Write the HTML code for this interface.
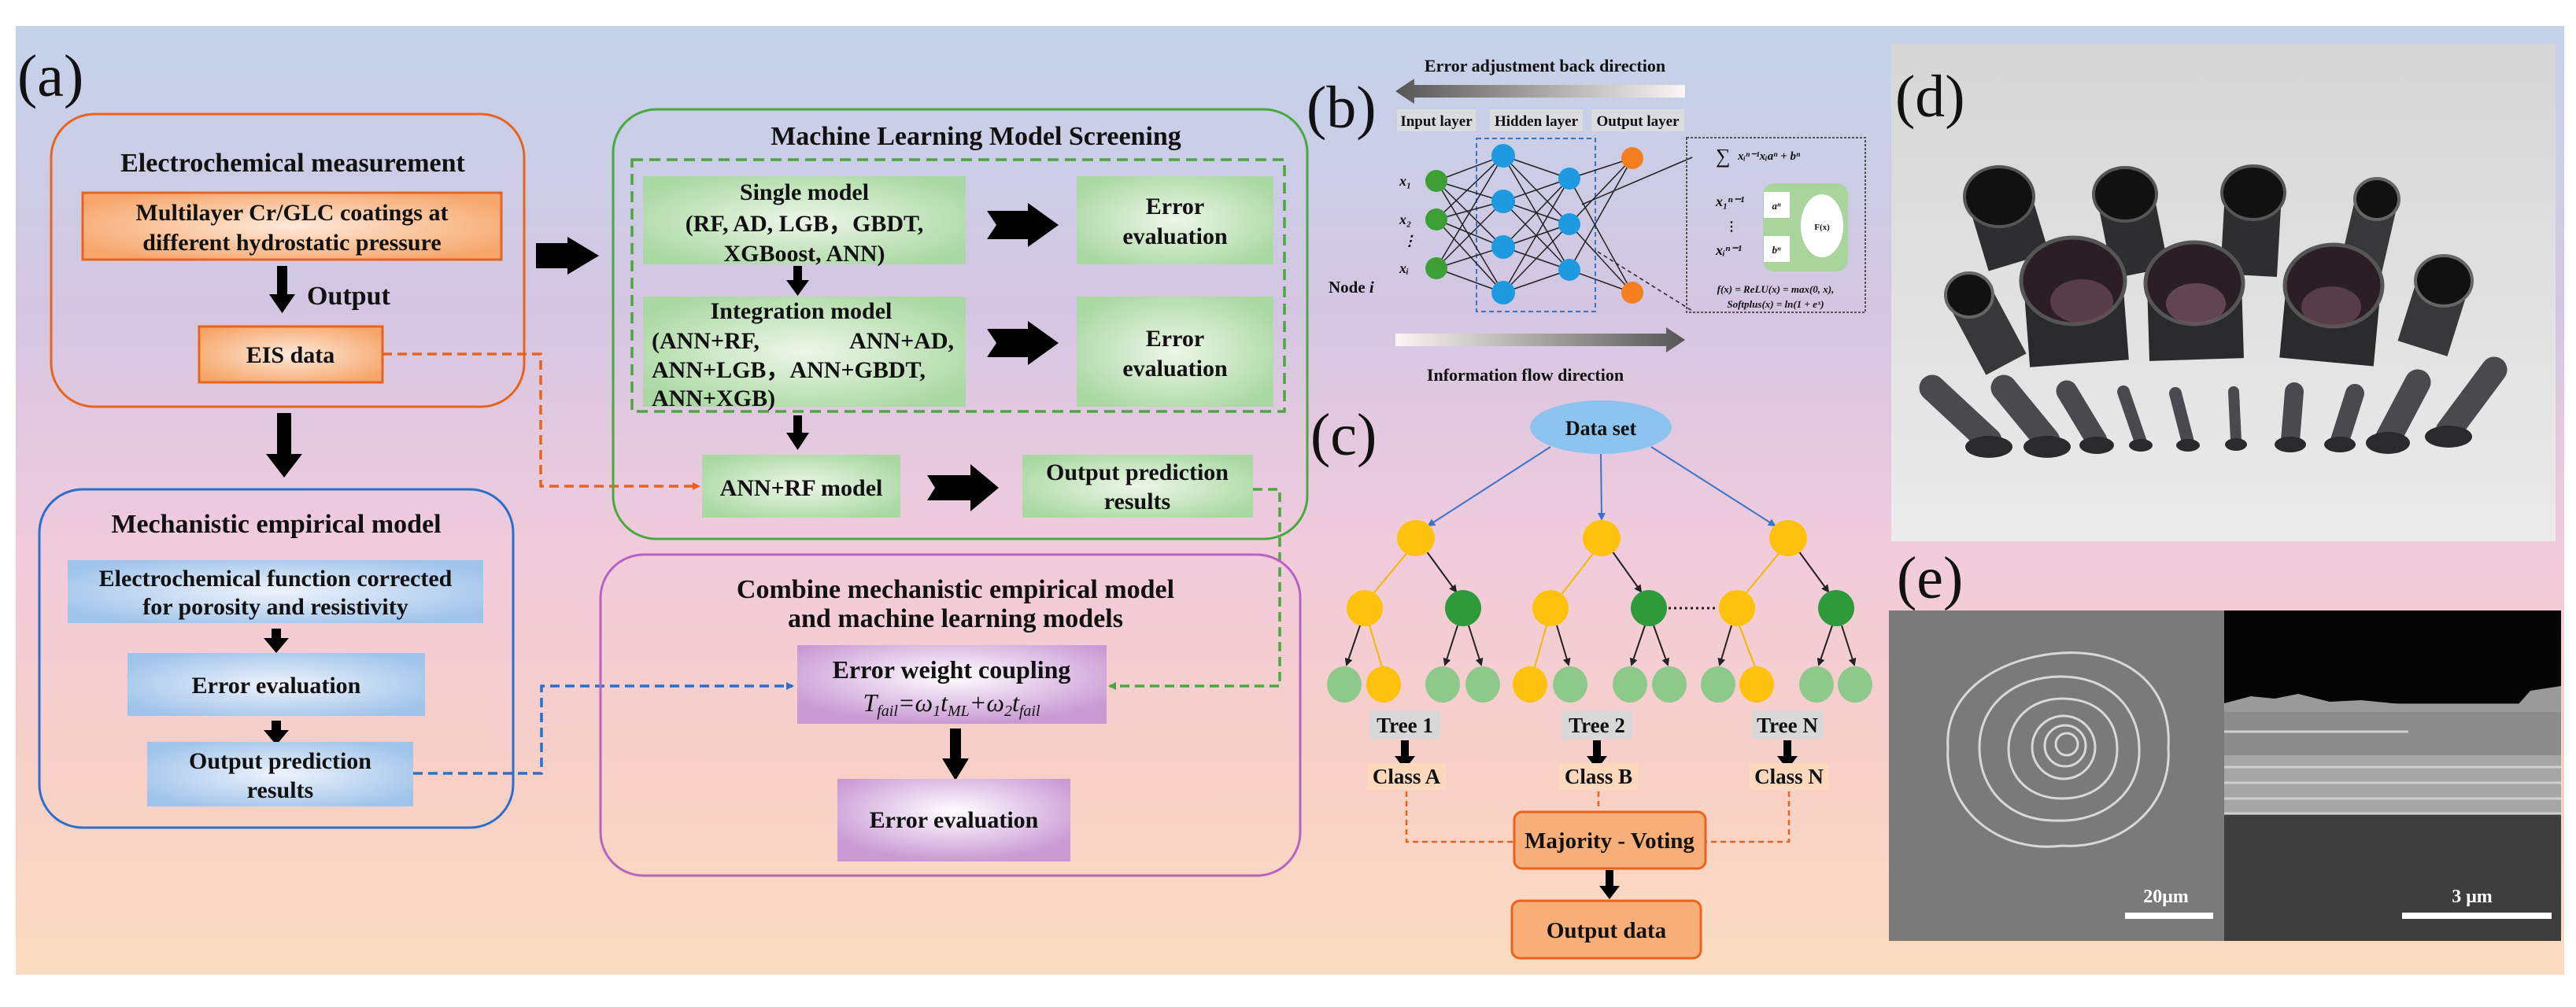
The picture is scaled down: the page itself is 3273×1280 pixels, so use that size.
<!DOCTYPE html>
<html><head><meta charset="utf-8"><style>
html,body{margin:0;padding:0;background:#fff;}
svg{display:block;}
text{font-family:"Liberation Serif",serif;font-weight:bold;fill:#111;}
</style></head><body>
<svg width="3273" height="1280" viewBox="0 0 3273 1280" xmlns="http://www.w3.org/2000/svg">
<defs>
<linearGradient id="bg" x1="0" y1="0" x2="0" y2="1">
<stop offset="0" stop-color="#c4d3ea"/>
<stop offset="0.3" stop-color="#d4c6e2"/>
<stop offset="0.55" stop-color="#f1cbdc"/>
<stop offset="0.8" stop-color="#f8d0c6"/>
<stop offset="1" stop-color="#fbdcc0"/>
</linearGradient>
<radialGradient id="og" cx="0.5" cy="0.5" r="0.6"><stop offset="0" stop-color="#fde9da"/><stop offset="1" stop-color="#f6a66a"/></radialGradient>
<radialGradient id="gg" cx="0.5" cy="0.5" r="0.6"><stop offset="0" stop-color="#eef6e9"/><stop offset="1" stop-color="#a9d8a2"/></radialGradient>
<radialGradient id="bgr" cx="0.5" cy="0.5" r="0.6"><stop offset="0" stop-color="#eef3fb"/><stop offset="1" stop-color="#9fc3ea"/></radialGradient>
<radialGradient id="pg" cx="0.5" cy="0.4" r="0.6"><stop offset="0" stop-color="#ffffff"/><stop offset="1" stop-color="#c99ad4"/></radialGradient>
<linearGradient id="arrL" x1="0" x2="1"><stop offset="0" stop-color="#555"/><stop offset="1" stop-color="#fbf6f3"/></linearGradient>
<linearGradient id="arrR" x1="0" x2="1"><stop offset="0" stop-color="#fbf6f3"/><stop offset="1" stop-color="#555"/></linearGradient>
<linearGradient id="photo" x1="0" y1="0" x2="0" y2="1"><stop offset="0" stop-color="#d6d6d6"/><stop offset="1" stop-color="#ebebeb"/></linearGradient>
<marker id="mo" markerWidth="10" markerHeight="10" refX="8" refY="5" orient="auto" markerUnits="userSpaceOnUse"><path d="M0,0 L10,5 L0,10 z" fill="#e8641e"/></marker>
<marker id="mb" markerWidth="10" markerHeight="10" refX="8" refY="5" orient="auto" markerUnits="userSpaceOnUse"><path d="M0,0 L10,5 L0,10 z" fill="#2a6fc9"/></marker>
<marker id="mg" markerWidth="10" markerHeight="10" refX="8" refY="5" orient="auto" markerUnits="userSpaceOnUse"><path d="M0,0 L10,5 L0,10 z" fill="#4aa83e"/></marker>
<marker id="mbl" markerWidth="10" markerHeight="10" refX="8" refY="5" orient="auto" markerUnits="userSpaceOnUse"><path d="M0,0 L10,5 L0,10 z" fill="#3a74c8"/></marker>
<marker id="mk" markerWidth="10" markerHeight="10" refX="8" refY="5" orient="auto" markerUnits="userSpaceOnUse"><path d="M0,0 L10,5 L0,10 z" fill="#222"/></marker>
</defs>
<rect x="20" y="33" width="3238" height="1206" fill="url(#bg)"/>

<!-- (a) -->
<text x="22" y="122" font-size="76" font-weight="normal" style="font-weight:normal">(a)</text>

<!-- orange box -->
<rect x="65" y="145" width="601" height="372" rx="55" fill="none" stroke="#e8641e" stroke-width="3"/>
<text x="372" y="218" font-size="34" text-anchor="middle">Electrochemical measurement</text>
<rect x="105" y="245" width="532" height="85" fill="url(#og)" stroke="#e8641e" stroke-width="3"/>
<text x="371" y="280" font-size="30" text-anchor="middle">Multilayer Cr/GLC coatings at</text>
<text x="371" y="318" font-size="30" text-anchor="middle">different hydrostatic pressure</text>
<path d="M352,338 h13 v36 h10 l-16.5,24 l-16.5,-24 h10 z" fill="#000"/>
<text x="390" y="387" font-size="34">Output</text>
<rect x="253" y="415" width="233" height="71" fill="url(#og)" stroke="#e8641e" stroke-width="3"/>
<text x="369" y="461" font-size="30" text-anchor="middle">EIS data</text>
<path d="M352,525 h18 v52 h14 l-23,30 l-23,-30 h14 z" fill="#000"/>
<path d="M681,309 h40 v-8 l40,24 l-40,24 v-8 h-40 z" fill="#000"/>
<polyline points="486,450 687,450 687,618 888,618" fill="none" stroke="#e8641e" stroke-width="3.5" stroke-dasharray="12,7" marker-end="url(#mo)"/>

<!-- blue box -->
<rect x="50" y="622" width="602" height="430" rx="55" fill="none" stroke="#2a6fc9" stroke-width="3"/>
<text x="351" y="677" font-size="34" text-anchor="middle">Mechanistic empirical  model</text>
<rect x="86" y="712" width="528" height="80" fill="url(#bgr)"/>
<text x="350" y="745" font-size="30" text-anchor="middle">Electrochemical function corrected</text>
<text x="350" y="781" font-size="30" text-anchor="middle">for porosity and resistivity</text>
<path d="M345,799 h12 v12 h10 l-16,19 l-16,-19 h10 z" fill="#000"/>
<rect x="162" y="830" width="378" height="80" fill="url(#bgr)"/>
<text x="351" y="881" font-size="30" text-anchor="middle">Error evaluation</text>
<path d="M345,916 h12 v12 h10 l-16,19 l-16,-19 h10 z" fill="#000"/>
<rect x="187" y="943" width="338" height="82" fill="url(#bgr)"/>
<text x="356" y="977" font-size="30" text-anchor="middle">Output prediction</text>
<text x="356" y="1014" font-size="30" text-anchor="middle">results</text>
<polyline points="525,983 688,983 688,872 1007,872" fill="none" stroke="#2a6fc9" stroke-width="3.5" stroke-dasharray="12,7" marker-end="url(#mb)"/>

<!-- green box -->
<rect x="779" y="139" width="882" height="546" rx="55" fill="none" stroke="#4aa83e" stroke-width="3"/>
<text x="1240" y="184" font-size="34" text-anchor="middle">Machine Learning Model Screening</text>
<rect x="803" y="203" width="829" height="320" fill="none" stroke="#4aa83e" stroke-width="3.5" stroke-dasharray="14,8"/>
<rect x="817" y="224" width="410" height="112" fill="url(#gg)"/>
<text x="1022" y="254" font-size="30" text-anchor="middle">Single model</text>
<text x="1022" y="294" font-size="30" text-anchor="middle">(RF, AD, LGB，GBDT,</text>
<text x="1022" y="332" font-size="30" text-anchor="middle">XGBoost, ANN)</text>
<rect x="1368" y="224" width="250" height="112" fill="url(#gg)"/>
<text x="1493" y="272" font-size="30" text-anchor="middle">Error</text>
<text x="1493" y="310" font-size="30" text-anchor="middle">evaluation</text>
<path d="M1254,268 h52 v-10 l39,28 l-39,28 v-10 h-52 l12,-18 z" fill="#000"/>
<path d="M1008,338 h11 v18 h9 l-14.5,20 l-14.5,-20 h9 z" fill="#000"/>
<rect x="817" y="377" width="410" height="140" fill="url(#gg)"/>
<text x="1018" y="405" font-size="30" text-anchor="middle">Integration model</text>
<text x="828" y="443" font-size="30">(ANN+RF,</text>
<text x="1212" y="443" font-size="30" text-anchor="end">ANN+AD,</text>
<text x="828" y="480" font-size="30">ANN+LGB，ANN+GBDT,</text>
<text x="828" y="516" font-size="30">ANN+XGB)</text>
<rect x="1368" y="377" width="250" height="140" fill="url(#gg)"/>
<text x="1493" y="440" font-size="30" text-anchor="middle">Error</text>
<text x="1493" y="478" font-size="30" text-anchor="middle">evaluation</text>
<path d="M1254,418 h52 v-10 l39,28 l-39,28 v-10 h-52 l12,-18 z" fill="#000"/>
<path d="M1008,528 h11 v22 h9 l-14.5,22 l-14.5,-22 h9 z" fill="#000"/>
<rect x="892" y="578" width="252" height="80" fill="url(#gg)"/>
<text x="1018" y="630" font-size="30" text-anchor="middle">ANN+RF model</text>
<rect x="1299" y="578" width="293" height="80" fill="url(#gg)"/>
<text x="1445" y="610" font-size="30" text-anchor="middle">Output prediction</text>
<text x="1445" y="647" font-size="30" text-anchor="middle">results</text>
<path d="M1178,604 h55 v-14 l36,30 l-36,30 v-14 h-55 l10,-16 z" fill="#000"/>
<polyline points="1592,622 1626,622 1626,872 1410,872" fill="none" stroke="#4aa83e" stroke-width="3.5" stroke-dasharray="12,7" marker-end="url(#mg)"/>

<!-- purple box -->
<rect x="763" y="705" width="889" height="408" rx="55" fill="none" stroke="#b565c0" stroke-width="3"/>
<text x="1214" y="760" font-size="34" text-anchor="middle">Combine mechanistic empirical model</text>
<text x="1214" y="797" font-size="34" text-anchor="middle">and machine learning models</text>
<rect x="1013" y="820" width="393" height="100" fill="url(#pg)"/>
<text x="1209" y="862" font-size="32" text-anchor="middle">Error weight coupling</text>
<text x="1209" y="904" font-size="32" text-anchor="middle" font-style="italic" style="font-weight:normal"><tspan font-style="italic">T</tspan><tspan font-size="20" dy="6">fail</tspan><tspan dy="-6">=ω</tspan><tspan font-size="20" dy="6">1</tspan><tspan dy="-6">t</tspan><tspan font-size="20" dy="6">ML</tspan><tspan dy="-6">+ω</tspan><tspan font-size="20" dy="6">2</tspan><tspan dy="-6">t</tspan><tspan font-size="20" dy="6">fail</tspan></text>
<path d="M1207,926 h14 v38 h10 l-17,28 l-17,-28 h10 z" fill="#000"/>
<rect x="1064" y="990" width="296" height="105" fill="url(#pg)"/>
<text x="1212" y="1052" font-size="30" text-anchor="middle">Error evaluation</text>

<!-- (b) -->
<text x="1660" y="162" font-size="76" style="font-weight:normal">(b)</text>
<text x="1963" y="91" font-size="22" text-anchor="middle">Error adjustment back direction</text>
<path d="M1773,116 l24,-16 v8 h344 v16 h-344 v8 z" fill="url(#arrL)"/>
<rect x="1775" y="139" width="100" height="28" fill="#dedede" opacity="0.8"/>
<rect x="1893" y="139" width="118" height="28" fill="#dedede" opacity="0.8"/>
<rect x="2022" y="139" width="118" height="28" fill="#dedede" opacity="0.8"/>
<text x="1825" y="160" font-size="19" text-anchor="middle">Input layer</text>
<text x="1952" y="160" font-size="19" text-anchor="middle">Hidden layer</text>
<text x="2081" y="160" font-size="19" text-anchor="middle">Output layer</text>
<rect x="1876" y="176" width="151" height="220" fill="none" stroke="#3a74c8" stroke-width="2" stroke-dasharray="6,4"/>
<g stroke="#222" stroke-width="1.5">
<line x1="1825" y1="230" x2="1910" y2="198"/><line x1="1825" y1="230" x2="1910" y2="256"/><line x1="1825" y1="230" x2="1910" y2="314"/><line x1="1825" y1="230" x2="1910" y2="372"/>
<line x1="1825" y1="279" x2="1910" y2="198"/><line x1="1825" y1="279" x2="1910" y2="256"/><line x1="1825" y1="279" x2="1910" y2="314"/><line x1="1825" y1="279" x2="1910" y2="372"/>
<line x1="1825" y1="341" x2="1910" y2="198"/><line x1="1825" y1="341" x2="1910" y2="256"/><line x1="1825" y1="341" x2="1910" y2="314"/><line x1="1825" y1="341" x2="1910" y2="372"/>
<line x1="1910" y1="198" x2="1994" y2="227"/><line x1="1910" y1="198" x2="1994" y2="285"/><line x1="1910" y1="198" x2="1994" y2="343"/>
<line x1="1910" y1="256" x2="1994" y2="227"/><line x1="1910" y1="256" x2="1994" y2="285"/><line x1="1910" y1="256" x2="1994" y2="343"/>
<line x1="1910" y1="314" x2="1994" y2="227"/><line x1="1910" y1="314" x2="1994" y2="285"/><line x1="1910" y1="314" x2="1994" y2="343"/>
<line x1="1910" y1="372" x2="1994" y2="227"/><line x1="1910" y1="372" x2="1994" y2="285"/><line x1="1910" y1="372" x2="1994" y2="343"/>
<line x1="1994" y1="227" x2="2074" y2="201"/><line x1="1994" y1="227" x2="2074" y2="372"/>
<line x1="1994" y1="285" x2="2074" y2="201"/><line x1="1994" y1="285" x2="2074" y2="372"/>
<line x1="1994" y1="343" x2="2074" y2="201"/><line x1="1994" y1="343" x2="2074" y2="372"/>
<line x1="2010" y1="260" x2="2150" y2="200"/>
<line x1="2030" y1="320" x2="2150" y2="395" stroke-dasharray="5,4"/>
</g>
<g fill="#3d9e36"><circle cx="1825" cy="230" r="14"/><circle cx="1825" cy="279" r="14"/><circle cx="1825" cy="341" r="14"/></g>
<g fill="#1e9be0"><circle cx="1910" cy="198" r="15"/><circle cx="1910" cy="256" r="15"/><circle cx="1910" cy="314" r="15"/><circle cx="1910" cy="372" r="15"/>
<circle cx="1994" cy="227" r="14"/><circle cx="1994" cy="285" r="14"/><circle cx="1994" cy="343" r="14"/></g>
<g fill="#f57f20"><circle cx="2074" cy="201" r="14"/><circle cx="2074" cy="372" r="14"/></g>
<g font-size="18" font-style="italic"><text x="1778" y="236">x₁</text><text x="1778" y="285">x₂</text><text x="1782" y="312">⋮</text><text x="1778" y="347">xᵢ</text></g>
<text x="1688" y="372" font-size="21">Node <tspan font-style="italic">i</tspan></text>
<rect x="2143" y="175" width="227" height="222" fill="none" stroke="#555" stroke-width="2" stroke-dasharray="3,2"/>
<text x="2180" y="207" font-size="26" style="font-weight:normal">∑</text>
<text x="2208" y="203" font-size="15" font-style="italic">xᵢⁿ⁻¹xᵢaⁿ + bⁿ</text>
<rect x="2240" y="233" width="108" height="112" rx="14" fill="#a9d49c"/>
<rect x="2241" y="244" width="33" height="33" fill="#fff"/>
<rect x="2241" y="300" width="33" height="33" fill="#fff"/>
<ellipse cx="2315" cy="287" rx="27" ry="40" fill="#fff"/>
<text x="2257" y="266" font-size="13" text-anchor="middle" font-style="italic">aⁿ</text>
<text x="2257" y="322" font-size="13" text-anchor="middle" font-style="italic">bⁿ</text>
<text x="2315" y="292" font-size="11" text-anchor="middle">F(x)</text>
<text x="2180" y="262" font-size="18" font-style="italic">x₁ⁿ⁻¹</text>
<text x="2192" y="293" font-size="16">⋮</text>
<text x="2180" y="324" font-size="18" font-style="italic">xᵢⁿ⁻¹</text>
<text x="2256" y="372" font-size="13" text-anchor="middle" font-style="italic">f(x) = ReLU(x) = max(0, x),</text>
<text x="2256" y="391" font-size="13" text-anchor="middle" font-style="italic">Softplus(x) = ln(1 + eˣ)</text>
<path d="M1773,424 h344 v-8 l24,16 l-24,16 v-8 h-344 z" fill="url(#arrR)"/>
<text x="1938" y="484" font-size="22" text-anchor="middle">Information flow direction</text>

<!-- (c) -->
<text x="1665" y="578" font-size="76" style="font-weight:normal">(c)</text>
<ellipse cx="2034" cy="543" rx="90" ry="34" fill="#8cc4ef"/>
<text x="2034" y="553" font-size="26" text-anchor="middle">Data set</text>
<g stroke="#3a74c8" stroke-width="2" marker-end="url(#mbl)">
<line x1="1970" y1="568" x2="1815" y2="668"/><line x1="2034" y1="577" x2="2035" y2="660"/><line x1="2098" y1="568" x2="2255" y2="668"/>
</g>
<g stroke-width="2">
<g stroke="#f5b800"><line x1="1790" y1="700" x2="1742" y2="758"/><line x1="2027" y1="700" x2="1982" y2="758"/><line x1="2263" y1="700" x2="2215" y2="758"/>
<line x1="1740" y1="795" x2="1756" y2="848"/><line x1="1965" y1="795" x2="1950" y2="848"/><line x1="2210" y1="795" x2="2230" y2="848"/></g>
<g stroke="#222" marker-end="url(#mk)"><line x1="1812" y1="700" x2="1850" y2="752"/><line x1="2048" y1="700" x2="2085" y2="752"/><line x1="2285" y1="700" x2="2323" y2="752"/>
<line x1="1728" y1="795" x2="1711" y2="845"/><line x1="1852" y1="795" x2="1836" y2="845"/><line x1="1866" y1="795" x2="1882" y2="845"/>
<line x1="1978" y1="795" x2="1993" y2="845"/><line x1="2090" y1="795" x2="2073" y2="845"/><line x1="2101" y1="795" x2="2119" y2="845"/>
<line x1="2200" y1="795" x2="2185" y2="845"/><line x1="2328" y1="795" x2="2311" y2="845"/><line x1="2340" y1="795" x2="2356" y2="845"/></g>
</g>
<g fill="#fec10e"><ellipse cx="1799" cy="684" rx="24" ry="23"/><ellipse cx="2035" cy="684" rx="24" ry="23"/><ellipse cx="2272" cy="684" rx="24" ry="23"/>
<ellipse cx="1734" cy="773" rx="23" ry="23"/><ellipse cx="1970" cy="773" rx="23" ry="23"/><ellipse cx="2207" cy="773" rx="23" ry="23"/>
<ellipse cx="1758" cy="870" rx="22" ry="23"/><ellipse cx="1944" cy="870" rx="22" ry="23"/><ellipse cx="2232" cy="870" rx="22" ry="23"/></g>
<g fill="#2e9a3a"><ellipse cx="1859" cy="773" rx="23" ry="23"/><ellipse cx="2095" cy="773" rx="23" ry="23"/><ellipse cx="2333" cy="773" rx="23" ry="23"/></g>
<g fill="#8dc98a"><ellipse cx="1708" cy="870" rx="22" ry="23"/><ellipse cx="1833" cy="870" rx="22" ry="23"/><ellipse cx="1884" cy="870" rx="22" ry="23"/>
<ellipse cx="1995" cy="870" rx="22" ry="23"/><ellipse cx="2071" cy="870" rx="22" ry="23"/><ellipse cx="2121" cy="870" rx="22" ry="23"/>
<ellipse cx="2183" cy="870" rx="22" ry="23"/><ellipse cx="2308" cy="870" rx="22" ry="23"/><ellipse cx="2357" cy="870" rx="22" ry="23"/></g>
<line x1="2120" y1="773" x2="2182" y2="773" stroke="#222" stroke-width="3" stroke-dasharray="3,4"/>
<g fill="#d8d8d8"><rect x="1740" y="903" width="90" height="36"/><rect x="1984" y="903" width="90" height="36"/><rect x="2226" y="903" width="90" height="36"/></g>
<g font-size="27" text-anchor="middle"><text x="1785" y="931">Tree 1</text><text x="2029" y="931">Tree 2</text><text x="2271" y="931">Tree N</text></g>
<g fill="#000"><path d="M1780,941 h10 v20 h8 l-13,17 l-13,-17 h8 z"/><path d="M2024,941 h10 v20 h8 l-13,17 l-13,-17 h8 z"/><path d="M2266,941 h10 v20 h8 l-13,17 l-13,-17 h8 z"/></g>
<g fill="#fcd9bd"><rect x="1737" y="970" width="100" height="34"/><rect x="1981" y="970" width="100" height="34"/><rect x="2223" y="970" width="100" height="34"/></g>
<g font-size="27" text-anchor="middle"><text x="1787" y="996">Class A</text><text x="2031" y="996">Class B</text><text x="2273" y="996">Class N</text></g>
<g fill="none" stroke="#e8641e" stroke-width="2.5" stroke-dasharray="7,5">
<polyline points="1787,1006 1787,1070 1923,1070"/><polyline points="2273,1006 2273,1070 2168,1070"/><line x1="2031" y1="1006" x2="2031" y2="1030"/></g>
<rect x="1924" y="1032" width="243" height="72" rx="10" fill="#f8ae78" stroke="#e8641e" stroke-width="3"/>
<text x="2045" y="1078" font-size="29" text-anchor="middle">Majority - Voting</text>
<path d="M2040,1106 h10 v20 h8 l-13,17 l-13,-17 h8 z" fill="#000"/>
<rect x="1921" y="1145" width="240" height="73" rx="10" fill="#f8ae78" stroke="#e8641e" stroke-width="3"/>
<text x="2041" y="1192" font-size="29" text-anchor="middle">Output data</text>

<!-- (d) photo -->
<rect x="2403" y="56" width="844" height="632" fill="url(#photo)"/>
<text x="2408" y="148" font-size="76" style="font-weight:normal">(d)</text>
<g stroke-linecap="butt">
<line x1="2540" y1="250" x2="2565" y2="333" stroke="#2e2e30" stroke-width="80"/><ellipse cx="2540" cy="250" rx="44" ry="38" fill="#111" stroke="#555" stroke-width="4"/>
<line x1="2700" y1="247" x2="2720" y2="347" stroke="#2e2e30" stroke-width="72"/><ellipse cx="2700" cy="247" rx="40" ry="34" fill="#111" stroke="#555" stroke-width="4"/>
<line x1="2863" y1="245" x2="2857" y2="350" stroke="#2e2e30" stroke-width="72"/><ellipse cx="2863" cy="245" rx="40" ry="34" fill="#111" stroke="#555" stroke-width="4"/>
<line x1="3020" y1="253" x2="3000" y2="340" stroke="#38383a" stroke-width="54"/><ellipse cx="3020" cy="253" rx="28" ry="26" fill="#111" stroke="#666" stroke-width="4"/>
<line x1="2502" y1="375" x2="2549" y2="463" stroke="#38383a" stroke-width="58"/><ellipse cx="2502" cy="375" rx="30" ry="28" fill="#111" stroke="#666" stroke-width="4"/>
<line x1="3105" y1="357" x2="3078" y2="443" stroke="#38383a" stroke-width="66"/><ellipse cx="3105" cy="357" rx="36" ry="32" fill="#111" stroke="#666" stroke-width="4"/>
<line x1="2634" y1="357" x2="2642" y2="462" stroke="#2a2a2c" stroke-width="126"/><ellipse cx="2634" cy="357" rx="66" ry="55" fill="#2b1f25" stroke="#555" stroke-width="5"/><ellipse cx="2645" cy="383" rx="40" ry="28" fill="#6a4a55" opacity="0.7"/>
<line x1="2788" y1="360" x2="2791" y2="457" stroke="#2a2a2c" stroke-width="120"/><ellipse cx="2788" cy="360" rx="62" ry="52" fill="#2b1f25" stroke="#555" stroke-width="5"/><ellipse cx="2790" cy="386" rx="38" ry="26" fill="#7a5565" opacity="0.7"/>
<line x1="2965" y1="363" x2="2956" y2="460" stroke="#2a2a2c" stroke-width="120"/><ellipse cx="2965" cy="363" rx="62" ry="52" fill="#2b1f25" stroke="#555" stroke-width="5"/><ellipse cx="2962" cy="390" rx="38" ry="26" fill="#6a4a55" opacity="0.7"/>
</g>
<g stroke-linecap="round" stroke="#4a4a4e">
<line x1="2455" y1="493" x2="2527" y2="560" stroke-width="33"/><line x1="2546" y1="493" x2="2601" y2="560" stroke-width="33"/>
<line x1="2626" y1="497" x2="2664" y2="560" stroke-width="27"/><line x1="2698" y1="498" x2="2720" y2="562" stroke-width="16"/>
<line x1="2764" y1="500" x2="2780" y2="562" stroke-width="16"/><line x1="2838" y1="498" x2="2841" y2="560" stroke-width="14"/>
<line x1="2915" y1="498" x2="2910" y2="560" stroke-width="24"/><line x1="2992" y1="500" x2="2973" y2="560" stroke-width="24"/>
<line x1="3072" y1="486" x2="3034" y2="558" stroke-width="33"/><line x1="3169" y1="470" x2="3111" y2="548" stroke-width="33"/>
</g>
<g fill="#2a2a2c"><ellipse cx="2527" cy="568" rx="30" ry="14"/><ellipse cx="2601" cy="568" rx="30" ry="14"/><ellipse cx="2664" cy="566" rx="22" ry="11"/><ellipse cx="2720" cy="566" rx="15" ry="8"/><ellipse cx="2780" cy="566" rx="15" ry="8"/><ellipse cx="2841" cy="565" rx="14" ry="8"/><ellipse cx="2910" cy="565" rx="20" ry="10"/><ellipse cx="2973" cy="565" rx="20" ry="10"/><ellipse cx="3034" cy="563" rx="28" ry="14"/><ellipse cx="3111" cy="555" rx="30" ry="14"/></g>

<!-- (e) -->
<text x="2410" y="760" font-size="76" style="font-weight:normal">(e)</text>
<rect x="2400" y="776" width="426" height="420" fill="#7a7a7a"/>
<g fill="none" stroke="#d8d8d8" stroke-width="3">
<path d="M2620,830 C2700,825 2760,870 2755,950 C2760,1030 2690,1080 2620,1075 C2540,1085 2470,1030 2475,950 C2470,880 2540,835 2620,830 Z"/>
<path d="M2618,860 C2680,860 2718,900 2718,952 C2720,1010 2670,1045 2615,1043 C2555,1045 2515,1005 2515,950 C2515,895 2560,860 2618,860 Z"/>
<path d="M2620,888 C2665,888 2690,915 2690,952 C2690,992 2660,1015 2620,1015 C2580,1015 2552,990 2552,952 C2552,915 2580,888 2620,888 Z"/>
<circle cx="2622" cy="950" r="40"/><circle cx="2624" cy="948" r="26"/><circle cx="2626" cy="946" r="14"/>
</g>
<rect x="2700" y="1160" width="112" height="8" fill="#fff"/>
<text x="2752" y="1147" font-size="24" fill="#fff" style="fill:#fff" text-anchor="middle">20μm</text>
<rect x="2826" y="776" width="428" height="420" fill="#5e5e5e"/>
<rect x="2826" y="776" width="428" height="118" fill="#050505"/>
<path d="M2826,894 L2860,885 2890,888 2920,882 2960,892 3000,890 3050,895 3200,895 3215,878 3254,872 L3254,905 2826,905 Z" fill="#9a9a9a"/>
<rect x="2826" y="905" width="428" height="55" fill="#8c8c8c"/>
<rect x="2826" y="960" width="428" height="75" fill="#a6a6a6"/>
<g stroke="#cfcfcf" stroke-width="3"><line x1="2826" y1="975" x2="3254" y2="975"/><line x1="2826" y1="995" x2="3254" y2="995"/><line x1="2826" y1="1015" x2="3254" y2="1015"/><line x1="2826" y1="1034" x2="3254" y2="1034"/><line x1="2826" y1="930" x2="3060" y2="930"/></g>
<rect x="2826" y="1036" width="428" height="160" fill="#3e3e3e"/>
<rect x="3052" y="1160" width="190" height="8" fill="#fff"/>
<text x="3141" y="1147" font-size="24" fill="#fff" style="fill:#fff" text-anchor="middle">3 μm</text>
</svg>
</body></html>
